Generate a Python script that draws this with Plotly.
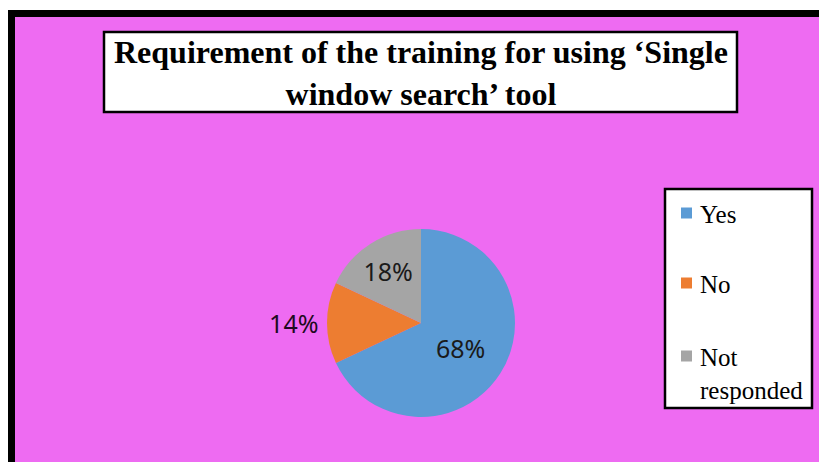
import plotly.graph_objects as go

labels = ["Yes", "No", "Not responded"]
legend_text = ["Yes", "No", "Not<br>responded"]
values = [68, 14, 18]
colors = ["#5B9BD5", "#ED7D31", "#A5A5A5"]
text_pos = ["inside", "outside", "inside"]

W, H = 819, 462


def px(x):
    return x / W


def py(y):
    return 1 - y / H


fig = go.Figure()
fig.add_trace(
    go.Pie(
        labels=labels,
        values=values,
        sort=False,
        direction="clockwise",
        rotation=0,
        marker=dict(colors=colors, line=dict(width=0)),
        textinfo="percent",
        textposition=text_pos,
        insidetextorientation="horizontal",
        textfont=dict(family="Noto Sans", size=25, color="#1a1a1a"),
        outsidetextfont=dict(family="Noto Sans", size=25, color="#1e0a1e"),
        domain=dict(x=[px(327), px(515)], y=[py(417), py(229)]),
        showlegend=False,
    )
)

shapes = [
    # outer black frame and magenta panel
    dict(type="rect", xref="paper", yref="paper", x0=px(8), x1=1.05, y0=-0.05, y1=py(10),
         fillcolor="black", line=dict(width=0), layer="below"),
    dict(type="rect", xref="paper", yref="paper", x0=px(15), x1=1.05, y0=-0.05, y1=py(17),
         fillcolor="#EE6BF2", line=dict(width=0), layer="below"),
    # title box
    dict(type="rect", xref="paper", yref="paper", x0=px(104), x1=px(737), y0=py(112), y1=py(32),
         fillcolor="white", line=dict(color="black", width=2.5), layer="below"),
    # legend box
    dict(type="rect", xref="paper", yref="paper", x0=px(665), x1=px(812), y0=py(408), y1=py(189),
         fillcolor="white", line=dict(color="black", width=2.5), layer="below"),
]

annotations = [
    dict(text="<b>Requirement of the training for using ‘Single<br>window search’ tool</b>",
         x=px(421), y=py(73), xref="paper", yref="paper", showarrow=False,
         xanchor="center", yanchor="middle",
         font=dict(family="Liberation Serif", size=32, color="black")),
]

# legend drawn by hand to match the wide spacing
item_y = [213, 283, 356]
for lab, col, yy in zip(legend_text, colors, item_y):
    shapes.append(dict(type="rect", xref="paper", yref="paper", x0=px(681), x1=px(692),
                       y0=py(yy + 5.5), y1=py(yy - 5.5), fillcolor=col, line=dict(width=0)))
    annotations.append(dict(text=lab, x=px(698), y=py(yy - 14), xref="paper", yref="paper",
                            showarrow=False, xanchor="left", yanchor="top", align="left",
                            font=dict(family="Liberation Serif", size=25, color="black")))

fig.update_layout(
    width=W,
    height=H,
    margin=dict(l=0, r=0, t=0, b=0),
    paper_bgcolor="white",
    plot_bgcolor="white",
    shapes=shapes,
    annotations=annotations,
)

fig.write_html(
    "out.html",
    config={"displayModeBar": False},
    post_script="document.body.style.margin='0';document.body.style.overflow='hidden';",
)
